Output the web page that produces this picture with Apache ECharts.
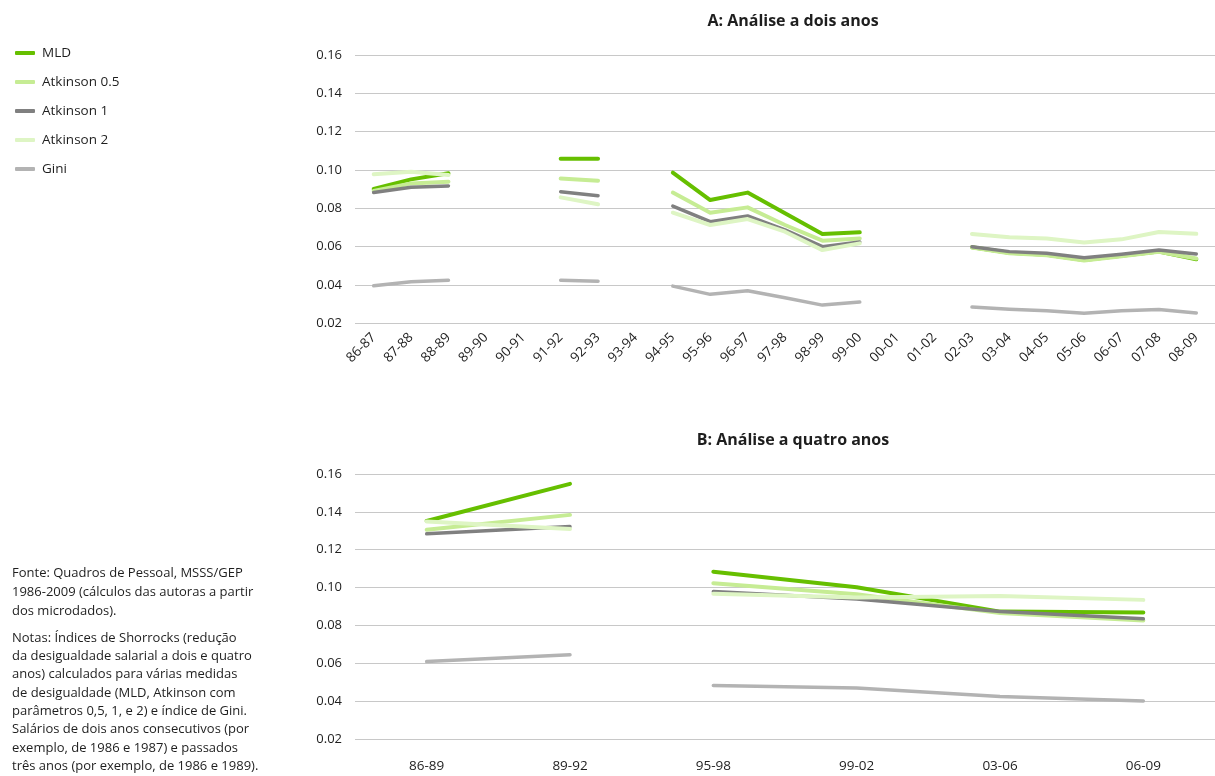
<!DOCTYPE html>
<html><head><meta charset="utf-8">
<script src="https://cdn.jsdelivr.net/npm/echarts@6/dist/echarts.min.js"></script>
<style>html,body{margin:0;padding:0;background:#fff}#c{width:1215px;height:776px}</style>
</head><body><div id="c"></div>
<script>
// Panel A: two-year analysis
const catsA = ['86-87','87-88','88-89','89-90','90-91','91-92','92-93','93-94','94-95','95-96','96-97','97-98','98-99','99-00','00-01','01-02','02-03','03-04','04-05','05-06','06-07','07-08','08-09'];
const mldA   = [0.0901,0.0951,0.0983,null,null,0.1059,0.1059,null,0.0986,0.0843,0.0882,0.0774,0.0666,0.0675,null,null,0.0597,0.0568,0.0558,0.0530,0.0552,0.0575,0.0534];
const atk05A = [0.0890,0.0930,0.0939,null,null,0.0955,0.0944,null,0.0882,0.0777,0.0805,0.0713,0.0631,0.0643,null,null,0.0595,0.0566,0.0555,0.0528,0.0550,0.0573,0.0538];
const atk1A  = [0.0882,0.0910,0.0917,null,null,0.0887,0.0866,null,0.0812,0.0730,0.0760,0.0687,0.0600,0.0624,null,null,0.0600,0.0574,0.0565,0.0542,0.0560,0.0582,0.0562];
const atk2A  = [0.0978,0.0991,0.0974,null,null,0.0857,0.0821,null,0.0777,0.0713,0.0744,0.0678,0.0582,0.0617,null,null,0.0666,0.0649,0.0643,0.0622,0.0638,0.0676,0.0667];
const giniA  = [0.0396,0.0417,0.0424,null,null,0.0424,0.0420,null,0.0394,0.0351,0.0370,0.0333,0.0295,0.0311,null,null,0.0285,0.0273,0.0265,0.0252,0.0265,0.0272,0.0254];
// Panel B: four-year analysis (line breaks between 89-92 and 95-98)
const catsB = ['86-89','89-92','95-98','99-02','03-06','06-09'];
const mldB   = [0.1352,0.1548,0.1084,0.1002,0.0873,0.0868];
const atk05B = [0.1305,0.1384,0.1023,0.0965,0.0865,0.0826];
const atk1B  = [0.1284,0.1322,0.0979,0.0939,0.0873,0.0835];
const atk2B  = [0.1349,0.1310,0.0967,0.0947,0.0956,0.0935];
const giniB  = [0.0609,0.0645,0.0483,0.0469,0.0424,0.0401];
const breakAfterB = 1; // index of last point before the gap
const yTicks = [0.02,0.04,0.06,0.08,0.10,0.12,0.14,0.16];

const names = ['MLD','Atkinson 0.5','Atkinson 1','Atkinson 2','Gini'];
const colors = ['#66bf00','#c6ec94','#808080','#def5c4','#b3b3b3'];
const widths = [4,4,3.5,4,3.5];
const font = '"Open Sans", "DejaVu Sans", sans-serif';
const txt = '#1e1e1e';
const dataA = [mldA, atk05A, atk1A, atk2A, giniA];
const dataB = [mldB, atk05B, atk1B, atk2B, giniB];

function mk(name, i, d, idx) {
  return {
    name: name, type: 'line', xAxisIndex: idx, yAxisIndex: idx,
    data: d, showSymbol: false, symbol: 'none', connectNulls: false, animation: false,
    lineStyle: { color: colors[i], width: widths[i], cap: 'round', join: 'round' },
    itemStyle: { color: colors[i] }, z: 2 + i
  };
}
const seriesA = dataA.map((d, i) => mk(names[i], i, d, 0));
const seriesB = [];
dataB.forEach((d, i) => {
  seriesB.push(mk(names[i], i, d.map((v, k) => k <= breakAfterB ? v : null), 1));
  seriesB.push(mk(names[i], i, d.map((v, k) => k > breakAfterB ? v : null), 1));
});

function yAxis(idx) {
  return {
    type: 'value', gridIndex: idx, min: yTicks[0], max: yTicks[yTicks.length - 1], interval: 0.02,
    axisLine: { show: false }, axisTick: { show: false },
    axisLabel: { color: txt, fontSize: 13, fontFamily: font, margin: 13, formatter: v => v.toFixed(2) },
    splitLine: { lineStyle: { color: '#c8c8c8', width: 1.2 } }
  };
}

const chart = echarts.init(document.getElementById('c'), null, { renderer: 'canvas' });
chart.setOption({
  backgroundColor: '#fff',
  animation: false,
  textStyle: { fontFamily: font },
  title: [
    { text: 'A: Análise a dois anos', left: 788, top: 8, textAlign: 'center',
      textStyle: { fontSize: 16, fontWeight: 'bold', color: txt, fontFamily: font } },
    { text: 'B: Análise a quatro anos', left: 788, top: 427, textAlign: 'center',
      textStyle: { fontSize: 16, fontWeight: 'bold', color: txt, fontFamily: font } }
  ],
  legend: {
    orient: 'vertical', left: 10, top: 41, itemGap: 15, itemWidth: 20, itemHeight: 4,
    icon: 'roundRect', data: names,
    textStyle: { color: txt, fontSize: 13.5, fontFamily: font, padding: [0, 0, 0, 2] }
  },
  grid: [
    { left: 355, top: 55, width: 867, height: 268.3, containLabel: false },
    { left: 355, top: 474, width: 867, height: 265, containLabel: false }
  ],
  xAxis: [
    { type: 'category', gridIndex: 0, data: catsA, boundaryGap: true,
      axisLine: { show: false }, axisTick: { show: false },
      axisLabel: { rotate: 45, interval: 0, color: txt, fontSize: 13.5, fontFamily: font, margin: 12 } },
    { type: 'category', gridIndex: 1, data: catsB, boundaryGap: true,
      axisLine: { show: false }, axisTick: { show: false },
      axisLabel: { interval: 0, color: txt, fontSize: 13.5, fontFamily: font, margin: 20 } }
  ],
  yAxis: [yAxis(0), yAxis(1)],
  graphic: [
    { type: 'text', left: 12, top: 564,
      style: { text: 'Fonte: Quadros de Pessoal, MSSS/GEP\n1986-2009 (cálculos das autoras a partir\ndos microdados).',
        fill: txt, font: '13px ' + font, lineHeight: 19 } },
    { type: 'text', left: 12, top: 629,
      style: { text: 'Notas: Índices de Shorrocks (redução\nda desigualdade salarial a dois e quatro\nanos) calculados para várias medidas\nde desigualdade (MLD, Atkinson com\nparâmetros 0,5, 1, e 2) e índice de Gini.\nSalários de dois anos consecutivos (por\nexemplo, de 1986 e 1987) e passados\ntrês anos (por exemplo, de 1986 e 1989).',
        fill: txt, font: '13px ' + font, lineHeight: 18.3 } }
  ],
  series: [...seriesA, ...seriesB]
});
</script>
</body></html>
